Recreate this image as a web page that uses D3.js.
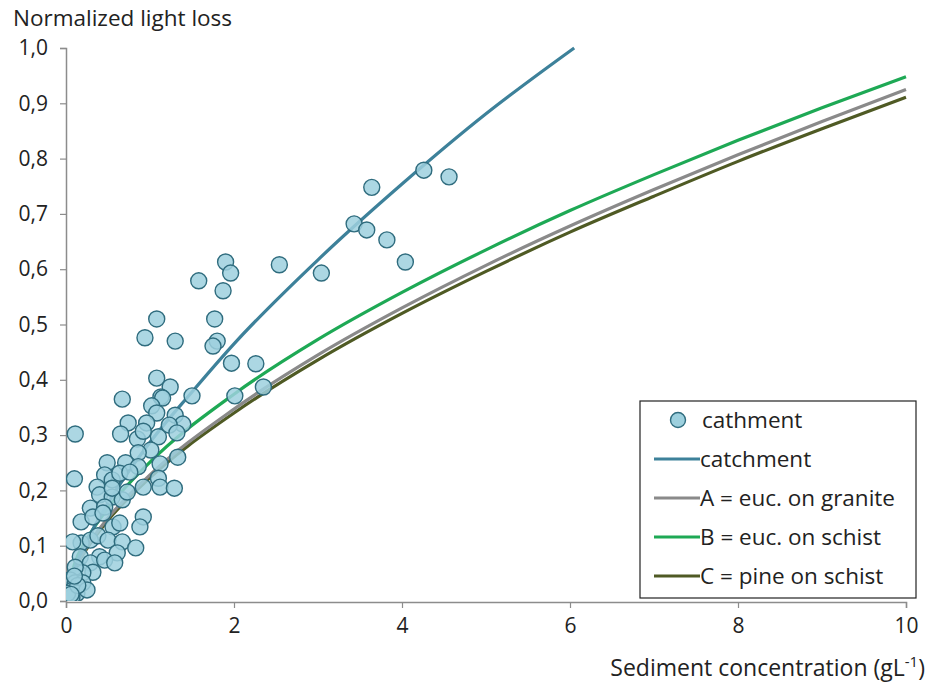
<!DOCTYPE html>
<html>
<head>
<meta charset="utf-8">
<script src="https://cdn.jsdelivr.net/npm/d3@7"></script>
<style>
  body { margin: 0; background: #fff; }
  text { font-family: "Open Sans", sans-serif; fill: #222; }
</style>
</head>
<body>
<div id="chart"></div>
<script>
// measured points (sediment conc. gL-1, normalized light loss)
var obsX = [4.56, 4.26, 3.64, 3.43, 3.58, 3.82, 4.04, 3.04, 1.90, 1.96, 1.58, 1.87, 2.54,
  1.08, 1.77, 1.30, 1.80, 1.75, 1.97, 2.26, 2.35, 2.01, 1.50, 1.08, 1.24, 1.13, 0.94,
  0.67, 1.15, 1.02, 1.08, 0.74, 0.96, 1.30, 1.39, 0.65, 0.85, 1.10, 1.23, 1.32, 0.92,
  1.01, 0.86, 1.33, 0.11, 0.49, 0.71, 0.86, 1.12, 0.10, 0.46, 0.55, 0.64, 0.76, 1.10,
  1.12, 1.29, 0.37, 0.40, 0.55, 0.67, 0.55, 0.92, 0.73, 0.29, 0.46, 0.92, 0.88, 0.18,
  0.32, 0.44, 0.56, 0.64, 0.18, 0.08, 0.29, 0.38, 0.50, 0.67, 0.83, 0.61, 0.40, 0.17,
  0.29, 0.46, 0.58, 0.32, 0.20, 0.11, 0.05, 0.11, 0.20, 0.08, 0.13, 0.07, 0.25, 0.02,
  0.14, 0.10, 0.06];
var obsY = [0.767, 0.779, 0.748, 0.682, 0.671, 0.653, 0.613, 0.593, 0.613, 0.593, 0.579, 0.561, 0.608,
  0.510, 0.510, 0.470, 0.470, 0.461, 0.430, 0.429, 0.387, 0.371, 0.371, 0.403, 0.387, 0.369, 0.476,
  0.365, 0.367, 0.353, 0.340, 0.322, 0.322, 0.336, 0.320, 0.302, 0.293, 0.297, 0.318, 0.304, 0.307,
  0.273, 0.268, 0.260, 0.302, 0.250, 0.250, 0.243, 0.248, 0.221, 0.228, 0.219, 0.231, 0.233, 0.222,
  0.206, 0.204, 0.206, 0.192, 0.188, 0.183, 0.204, 0.206, 0.197, 0.168, 0.170, 0.152, 0.134, 0.143,
  0.152, 0.159, 0.134, 0.141, 0.105, 0.107, 0.110, 0.118, 0.110, 0.107, 0.096, 0.087, 0.080, 0.080,
  0.069, 0.074, 0.069, 0.052, 0.051, 0.061, 0.038, 0.033, 0.033, 0.020, 0.014, 0.007, 0.020, 0.014,
  0.028, 0.045, 0.012];

// fitted curves
var catchX = [0, 0.1, 0.25, 0.5, 1, 1.5, 2, 3, 4, 5, 6.05];
var catchY = [0, 0.058, 0.109, 0.177, 0.287, 0.378, 0.465, 0.617, 0.754, 0.881, 1.0];
var curveX = [0, 0.1, 0.25, 0.5, 1, 2, 3, 4, 5, 6, 7, 8, 9, 10];
var granY = [0, 0.056, 0.098, 0.150, 0.228, 0.347, 0.445, 0.530, 0.607, 0.678, 0.744, 0.807, 0.867, 0.925];
var schistY = [0, 0.066, 0.112, 0.168, 0.251, 0.374, 0.473, 0.558, 0.635, 0.706, 0.771, 0.833, 0.892, 0.948];
var pineY = [0, 0.055, 0.095, 0.146, 0.223, 0.340, 0.436, 0.520, 0.596, 0.667, 0.732, 0.795, 0.854, 0.911];

var xTicks = [0, 2, 4, 6, 8, 10];
var yTicks = [0, 0.1, 0.2, 0.3, 0.4, 0.5, 0.6, 0.7, 0.8, 0.9, 1.0];

var legendItems = [
  {label: 'cathment', type: 'point'},
  {label: 'catchment', type: 'line', color: '#3d819a'},
  {label: 'A = euc. on granite', type: 'line', color: '#8a8a8a'},
  {label: 'B = euc. on schist', type: 'line', color: '#1ea955'},
  {label: 'C = pine on schist', type: 'line', color: '#4f5a24'}
];

var W = 931, H = 685;
var margin = {left: 66, right: 25, top: 48, bottom: 84};

var svg = d3.select('#chart').append('svg')
  .attr('width', W)
  .attr('height', H);

var x = d3.scaleLinear().domain([0, 10]).range([margin.left, W - margin.right]);
var y = d3.scaleLinear().domain([0, 1]).range([H - margin.bottom, margin.top]);

svg.append('defs').append('clipPath').attr('id', 'plot')
  .append('rect')
  .attr('x', margin.left).attr('y', margin.top - 2)
  .attr('width', W - margin.left - margin.right + 4)
  .attr('height', H - margin.top - margin.bottom + 2);

// axes
var fmt = d3.format('.1f');
var yAxis = svg.append('g')
  .attr('transform', 'translate(' + margin.left + ',0)')
  .call(d3.axisLeft(y).tickValues(yTicks).tickSize(6).tickPadding(12)
    .tickFormat(d => fmt(d).replace('.', ',')));

var xAxis = svg.append('g')
  .attr('transform', 'translate(0,' + (H - margin.bottom + 1) + ')')
  .call(d3.axisBottom(x).tickValues(xTicks).tickSize(6).tickPadding(10));

[xAxis, yAxis].forEach(function (a) {
  a.select('.domain').attr('stroke', '#8c8c8c').attr('stroke-width', 1.5);
  a.selectAll('.tick line').attr('stroke', '#8c8c8c').attr('stroke-width', 1.2);
  a.selectAll('.tick text').attr('font-size', 21).attr('fill', '#333')
    .style('font-family', '"Open Sans", sans-serif');
});

// titles
svg.append('text')
  .attr('x', 13).attr('y', 26)
  .attr('font-size', 22.5)
  .text('Normalized light loss');

var xl = svg.append('text')
  .attr('x', 925).attr('y', 676)
  .attr('text-anchor', 'end')
  .attr('font-size', 23);
xl.append('tspan').text('Sediment concentration (gL');
xl.append('tspan').attr('dy', -9).attr('font-size', 15).text('-1');
xl.append('tspan').attr('dy', 9).text(')');

// lines
var line = d3.line()
  .x(d => x(d[0]))
  .y(d => y(d[1]))
  .curve(d3.curveMonotoneX);

var lines = [
  {xs: curveX, ys: pineY, color: '#4f5a24'},
  {xs: curveX, ys: granY, color: '#8a8a8a'},
  {xs: curveX, ys: schistY, color: '#1ea955'},
  {xs: catchX, ys: catchY, color: '#3d819a'}
];

var plot = svg.append('g').attr('clip-path', 'url(#plot)');

plot.selectAll('path.fit').data(lines)
  .enter()
  .append('path')
  .classed('fit', true)
  .attr('d', d => line(d.xs.map((v, i) => [v, d.ys[i]])))
  .attr('fill', 'none')
  .attr('stroke', d => d.color)
  .attr('stroke-width', 3.2);

// observations
plot.selectAll('circle.obs').data(obsX.map((v, i) => [v, obsY[i]]))
  .enter()
  .append('circle')
  .classed('obs', true)
  .attr('cx', d => x(d[0]))
  .attr('cy', d => y(d[1]))
  .attr('r', 8)
  .attr('fill', '#9dd0de')
  .attr('fill-opacity', 0.85)
  .attr('stroke', '#2f6c7e')
  .attr('stroke-width', 1.4);

// legend
var leg = svg.append('g').attr('transform', 'translate(640,401)');
leg.append('rect')
  .attr('width', 276).attr('height', 197)
  .attr('fill', '#fff')
  .attr('stroke', '#222')
  .attr('stroke-width', 1.2);

var rows = leg.selectAll('g.row').data(legendItems)
  .enter()
  .append('g')
  .classed('row', true)
  .attr('transform', (d, i) => 'translate(0,' + (19 + i * 39) + ')');

rows.filter(d => d.type === 'point').append('circle')
  .attr('cx', 38).attr('cy', 0).attr('r', 7.5)
  .attr('fill', '#9dd0de')
  .attr('stroke', '#2f6c7e')
  .attr('stroke-width', 1.4);

rows.filter(d => d.type === 'line').append('line')
  .attr('x1', 14).attr('x2', 60)
  .attr('stroke', d => d.color)
  .attr('stroke-width', 3.2);

rows.append('text')
  .attr('x', d => d.type === 'point' ? 62 : 60)
  .attr('y', 8)
  .attr('font-size', 22.5)
  .text(d => d.label);
</script>
</body>
</html>
